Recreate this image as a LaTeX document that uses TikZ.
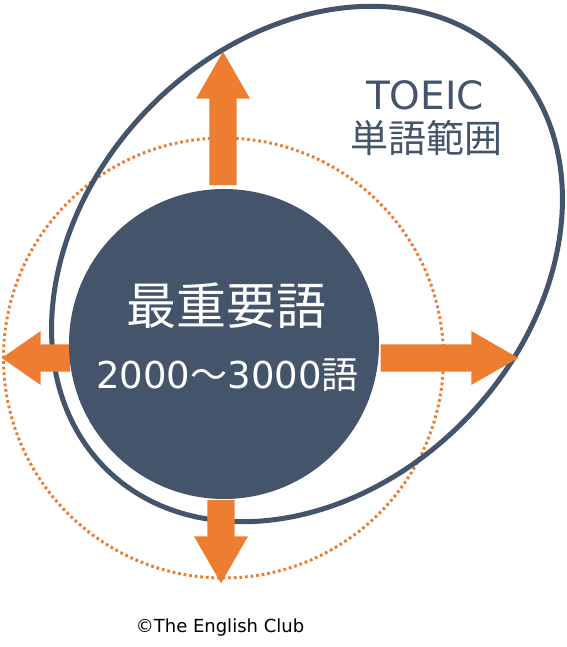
\documentclass[tikz,border=0pt]{standalone}
\usepackage{fontspec}
\setmainfont{Noto Sans CJK JP}
\newfontfamily\latinfont{DejaVu Sans}
\usepackage{tikz}
\usetikzlibrary{shapes}
\definecolor{tocblue}{HTML}{44546A}
\definecolor{tocorange}{HTML}{ED7D31}
\tikzstyle{core} = [circle, fill=tocblue, minimum size=310pt, inner sep=0pt]
\tikzstyle{fatarrow} = [fill=tocorange]
\tikzstyle{dotring} = [draw=tocorange, line width=3pt, dash pattern=on 2.7pt off 2.9pt]
\tikzstyle{toeicring} = [draw=tocblue, line width=5pt]
\tikzstyle{wordtext} = [anchor=base, inner sep=0pt]

\begin{document}
\begin{tikzpicture}[x=1pt, y=-1pt]

    \useasboundingbox (0,0) rectangle (566,647);
    \fill [white] (0,0) rectangle (566,647);

    % rings
    \draw [dotring] (223.5,358) circle [radius=220pt];
    \draw [toeicring, rotate around={46:(307,264)}] (307,264) ellipse [x radius=287pt, y radius=222pt];

    % arrows: start x / start y / angle / length / head length
    \foreach \sx/\sy/\ang/\len/\hd in {223/185/90/133.3/47, 221/500/270/83.3/47, 70/358/180/68.3/39, 380.7/358/0/137.6/47}
        \fill [fatarrow, shift={(\sx,\sy)}, rotate=\ang] (0,13.7) -- ({\len-\hd},13.7) -- ({\len-\hd},27) -- (\len,0) -- ({\len-\hd},-27) -- ({\len-\hd},-13.7) -- (0,-13.7) -- cycle;

    \node (core) [core] at (224,344) {};
    \node (title) [wordtext, text=white] at (226.5,324.5) {\fontsize{50}{50}\selectfont 最重要語};
    \node (count) [wordtext, text=white] at (227.5,388) {\fontsize{37}{37}\selectfont{\latinfont 2000}～{\latinfont 3000}語};

    \node (toeic) [wordtext, text=tocblue] at (425,109.5) {\fontsize{39}{39}\selectfont\latinfont TOEIC};
    \node (range) [wordtext, text=tocblue] at (426,153) {\fontsize{38}{38}\selectfont 単語範囲};

    \node (credit) [wordtext] at (220,632) {\fontsize{18}{18}\selectfont\latinfont ©The English Club};

\end{tikzpicture}
\end{document}
